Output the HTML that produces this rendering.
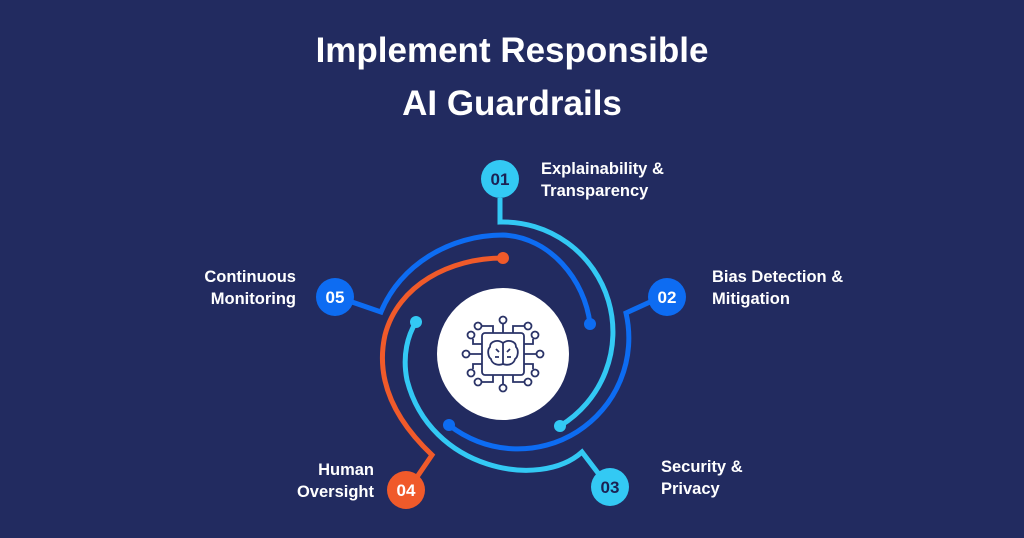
<!DOCTYPE html>
<html><head><meta charset="utf-8"><style>
html,body{margin:0;padding:0;}
body{width:1024px;height:538px;background:#222b60;overflow:hidden;position:relative;font-family:"Liberation Sans",sans-serif;}
.t{position:absolute;color:#fff;font-weight:bold;}
.lbl{position:absolute;color:#fff;font-weight:bold;font-size:16.5px;line-height:22px;}
</style></head><body>
<div class="t" style="left:0;width:1024px;text-align:center;top:24px;font-size:35px;line-height:53px;">Implement Responsible<br>AI Guardrails</div>
<svg width="1024" height="538" style="position:absolute;left:0;top:0" fill="none" stroke-width="5" stroke-linecap="butt">
<path d="M500,198 V222 A110,110 0 0 1 560,426" stroke="#33c9f4"/>
<circle cx="560" cy="426" r="6" fill="#33c9f4" stroke="none"/>
<path d="M650,302 L626,313 A111,111 0 0 1 449,425" stroke="#0d6cf2"/>
<circle cx="449" cy="425" r="6" fill="#0d6cf2" stroke="none"/>
<path d="M598,473 L582,452 C540,490 430,470 407,380 C402,355 408,335 416,322" stroke="#33c9f4"/>
<circle cx="416" cy="322" r="6" fill="#33c9f4" stroke="none"/>
<path d="M417,477 L432,455 C395,420 375,380 385,335 C398,285 450,258 503,258" stroke="#f05a2a"/>
<circle cx="503" cy="258" r="6" fill="#f05a2a" stroke="none"/>
<path d="M352,302 L381,312 C400,265 450,235 503,235 C550,237 585,280 590,324" stroke="#0d6cf2"/>
<circle cx="590" cy="324" r="6" fill="#0d6cf2" stroke="none"/>
<g stroke="none" font-family="Liberation Sans,sans-serif" font-weight="bold" font-size="17" text-anchor="middle">
<circle cx="500" cy="179" r="19" fill="#33c9f4"/><text x="500" y="185" fill="#1b2254">01</text>
<circle cx="667" cy="297" r="19" fill="#0d6cf2"/><text x="667" y="303" fill="#fff">02</text>
<circle cx="610" cy="487" r="19" fill="#33c9f4"/><text x="610" y="493" fill="#1b2254">03</text>
<circle cx="406" cy="490" r="19" fill="#f05a2a"/><text x="406" y="496" fill="#fff">04</text>
<circle cx="335" cy="297" r="19" fill="#0d6cf2"/><text x="335" y="303" fill="#fff">05</text>
</g>
<circle cx="503" cy="354" r="66" fill="#fff" stroke="none"/>
<g stroke="#2a3367" stroke-width="1.8" fill="none">
<rect x="482" y="333" width="42" height="42" rx="3"/>
<path d="M503,333 V324 M493,333 V326 H481 M513,333 V326 H525 M482,344 H473 V339 M524,344 H533 V339 M482,354 H470 M524,354 H536 M482,364 H473 V369 M524,364 H533 V369 M503,375 V384 M493,375 V382 H481 M513,375 V382 H525"/>
<circle cx="503" cy="320" r="3.5" fill="#fff"/><circle cx="478" cy="326" r="3.5" fill="#fff"/><circle cx="528" cy="326" r="3.5" fill="#fff"/>
<circle cx="471" cy="335" r="3.5" fill="#fff"/><circle cx="535" cy="335" r="3.5" fill="#fff"/>
<circle cx="466" cy="354" r="3.5" fill="#fff"/><circle cx="540" cy="354" r="3.5" fill="#fff"/>
<circle cx="471" cy="373" r="3.5" fill="#fff"/><circle cx="535" cy="373" r="3.5" fill="#fff"/>
<circle cx="478" cy="382" r="3.5" fill="#fff"/><circle cx="528" cy="382" r="3.5" fill="#fff"/><circle cx="503" cy="388" r="3.5" fill="#fff"/>
<path d="M503,343 C498,339 490,341 490,347 C487,350 488,357 491,359 C492,364 498,366 503,364 C508,366 514,364 515,359 C518,357 519,350 516,347 C516,341 508,339 503,343 Z M503,343 V364 M496,349 l3,3 M510,349 l-3,3 M495,357 h4 M507,357 h4"/>
</g>
</svg>
<div class="lbl" style="left:541px;top:158px;">Explainability &amp;<br>Transparency</div>
<div class="lbl" style="left:712px;top:266px;">Bias Detection &amp;<br>Mitigation</div>
<div class="lbl" style="left:661px;top:456px;">Security &amp;<br>Privacy</div>
<div class="lbl" style="left:254px;top:459px;width:120px;text-align:right;">Human<br>Oversight</div>
<div class="lbl" style="left:176px;top:266px;width:120px;text-align:right;">Continuous<br>Monitoring</div>
</body></html>
